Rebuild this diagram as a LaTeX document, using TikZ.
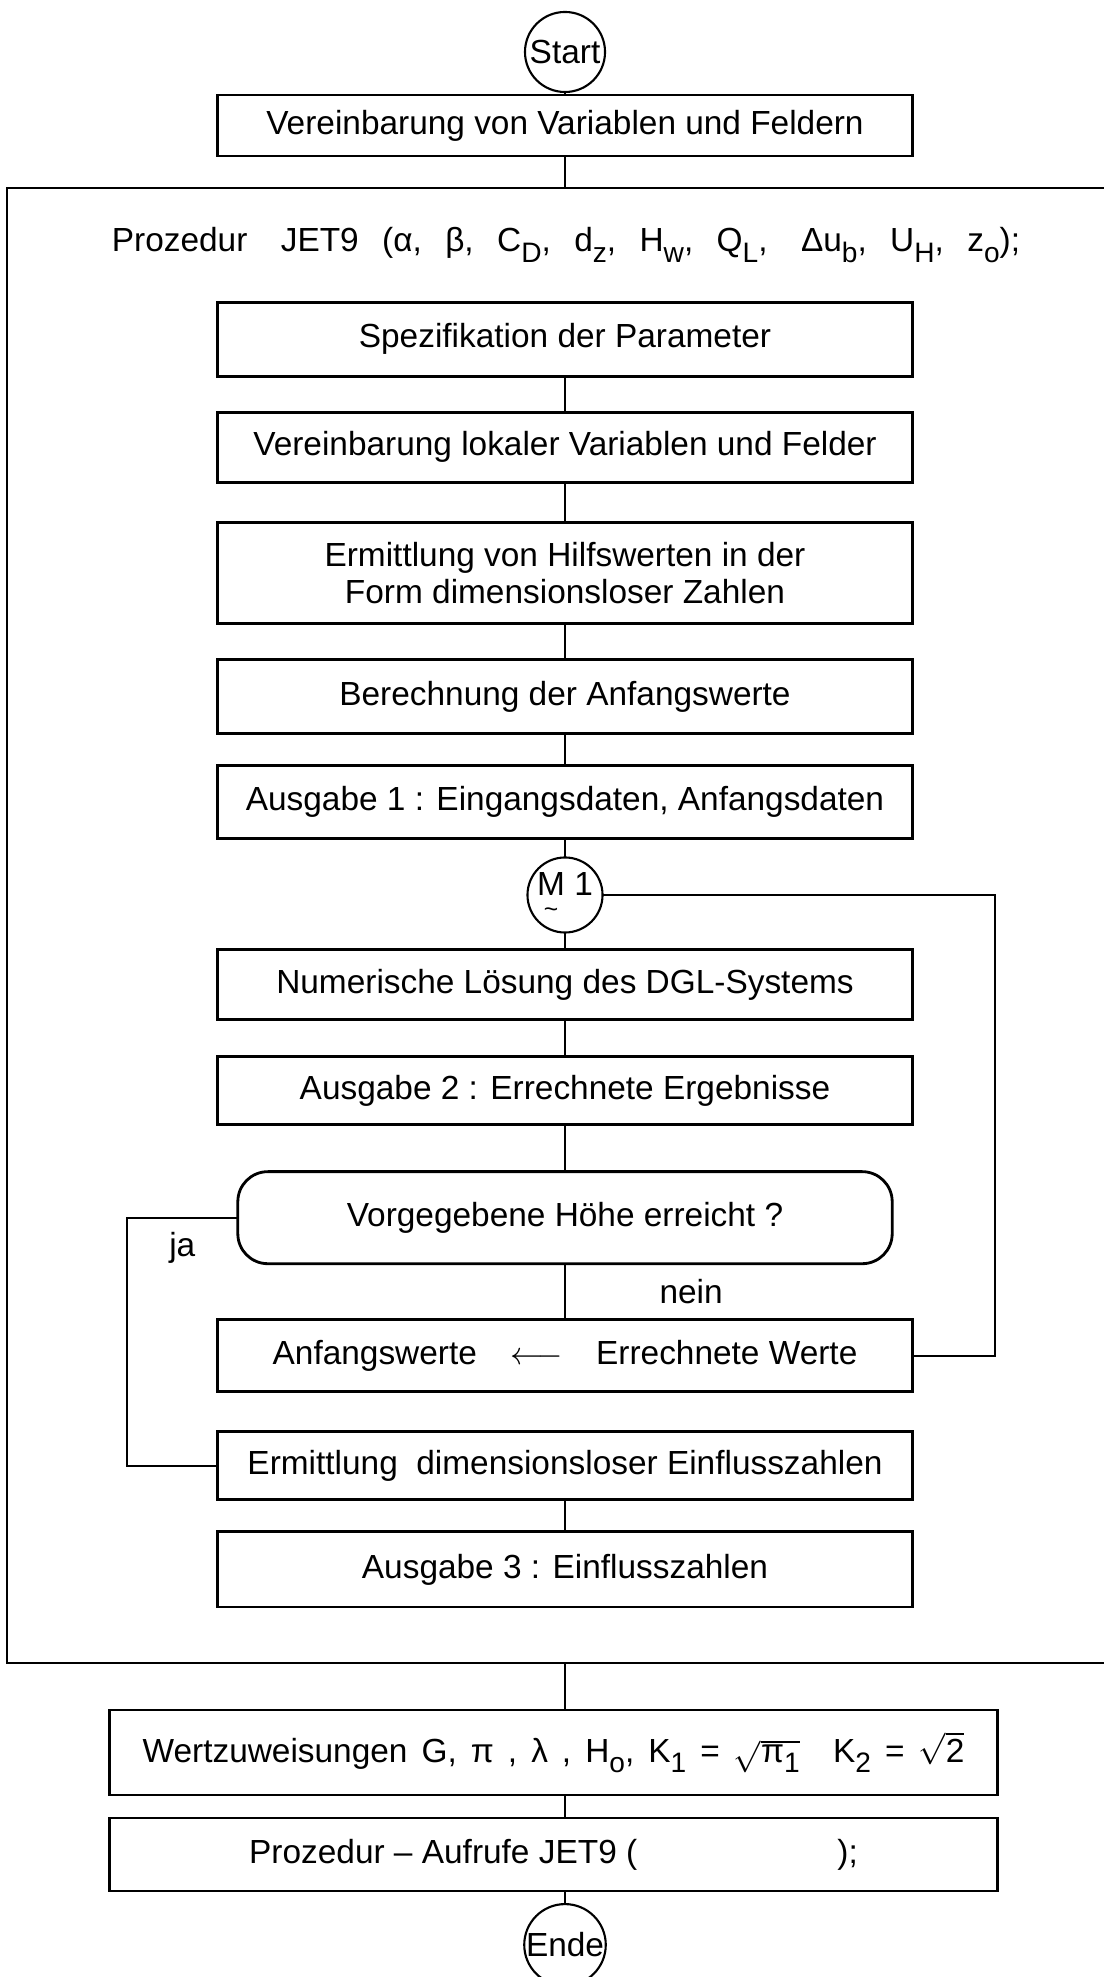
\documentclass[tikz,border=0pt]{standalone}
\usepackage{amsmath}
\usepackage{fontspec}
\setmainfont{Liberation Sans}
\usetikzlibrary{shapes,arrows,positioning,calc}
\newcommand{\tief}[1]{\raisebox{-0.6ex}{\footnotesize #1}}
\newcommand{\mstrich}{\ooalign{M\cr\hidewidth\raisebox{-1.25ex}{\scriptsize\textasciitilde}\hidewidth\cr}}

\begin{document}
\begin{tikzpicture}[x=0.01cm, y=-0.01cm, node distance=0.36cm, >=stealth,
    font=\fontsize{9.5}{10.5}\selectfont,
    kasten/.style={draw, rectangle, line width=0.8pt, outer sep=0pt, minimum width=6.94cm, minimum height=0.72cm, align=center, inner sep=2pt},
    kreis/.style={draw, circle, line width=0.6pt, outer sep=0pt, minimum size=0.78cm, inner sep=0pt},
    frage/.style={draw, rectangle, rounded corners=0.3cm, line width=0.8pt, outer sep=0pt, minimum width=6.54cm, minimum height=0.92cm},
    verb/.style={line width=0.45pt}]
            \useasboundingbox[fill=white] (0,0) rectangle (1103,1977);
            \node[kreis, minimum size=0.8cm] (start) at (565,52) {Start};
            \node[kasten, below=0.03cm of start, minimum height=0.61cm] (v1) {Vereinbarung von Variablen und Feldern};
            \coordinate (ftop) at (565,188);
            \node (proz) at (566,245) {\spaceskip=0.7em Prozedur\quad JET9 (α, β, C\tief{D}, d\tief{z}, H\tief{w}, Q\tief{L},\quad Δu\tief{b}, U\tief{H}, z\tief{o});};
            \node[kasten, below=1.46cm of v1, minimum height=0.74cm] (spez) {Spezifikation der Parameter};
            \node[kasten, below=of spez, minimum height=0.70cm] (lokal) {Vereinbarung lokaler Variablen und Felder};
            \node[kasten, below=0.40cm of lokal, minimum height=1.01cm] (hilfs) {Ermittlung von Hilfswerten in der\\Form dimensionsloser Zahlen};
            \node[kasten, below=of hilfs, minimum height=0.74cm] (anfw) {Berechnung der Anfangswerte};
            \node[kasten, below=0.32cm of anfw, minimum height=0.73cm] (aus1) {Ausgabe 1 : Eingangsdaten, Anfangsdaten};
            \node[kreis, below=0.19cm of aus1, minimum size=0.75cm] (m1) {\mstrich\ 1};
            \node[kasten, below=0.17cm of m1, minimum height=0.70cm] (dgl) {Numerische Lösung des DGL-Systems};
            \node[kasten, below=0.37cm of dgl, minimum height=0.68cm] (aus2) {Ausgabe 2 : Errechnete Ergebnisse};
            \node[frage, below=0.47cm of aus2] (hoehe) {Vorgegebene Höhe erreicht ?};
            \node[kasten, below=0.56cm of hoehe] (tausch) {Anfangswerte\quad $\longleftarrow$\quad Errechnete Werte};
            \node[kasten, below=0.40cm of tausch, minimum height=0.68cm] (einfl) {Ermittlung\ \ dimensionsloser Einflusszahlen};
            \node[kasten, below=0.32cm of einfl, minimum height=0.75cm] (aus3) {Ausgabe 3 : Einflusszahlen};
            \coordinate (fbot) at (565,1663);
            \node[kasten, below=1.03cm of aus3, xshift=-0.115cm, minimum width=8.87cm, minimum height=0.85cm] (wert) {\spaceskip=0.42em Wertzuweisungen G, π , λ , H\tief{o}, K\tief{1} = $\sqrt{\text{π\tief{1}}}$\quad K\tief{2} = $\sqrt{\text{2}}$};
            \node[kasten, below=0.23cm of wert, minimum width=8.87cm, minimum height=0.73cm] (aufruf) {Prozedur – Aufrufe JET9 (\hspace{2cm});};
            \node[kreis, below=0.13cm of aufruf, xshift=0.115cm, minimum size=0.8cm] (ende) {Ende};

            \draw[line width=0.8pt] (1110,188) -| (7,1663) -- (1110,1663);
            \draw[verb] (start) -- (v1);
            \draw[verb] (v1) -- (ftop);
            \draw[verb] (spez) -- (lokal);
            \draw[verb] (lokal) -- (hilfs);
            \draw[verb] (hilfs) -- (anfw);
            \draw[verb] (anfw) -- (aus1);
            \draw[verb] (aus1) -- (m1);
            \draw[verb] (m1) -- (dgl);
            \draw[verb] (dgl) -- (aus2);
            \draw[verb] (aus2) -- (hoehe);
            \draw[verb] (hoehe) -- node[right=0.82cm] (nein) {nein} (tausch);
            \draw[verb] (einfl) -- (aus3);
            \draw[verb] (fbot) -- (fbot |- wert.north);
            \draw[verb] (wert.south -| fbot) -- (aufruf.north -| fbot);
            \draw[verb] (aufruf.south -| fbot) -- (ende);
            \draw[line width=0.6pt] (tausch.east) -- ++(83,0) |- (m1.east);
            \draw[line width=0.6pt] (hoehe.west) -- ++(-111,0) coordinate (knick) |- (einfl.west);
            \node[below right=0.02cm and 0.3cm of knick] (ja) {ja};
        \end{tikzpicture}
\end{document}
